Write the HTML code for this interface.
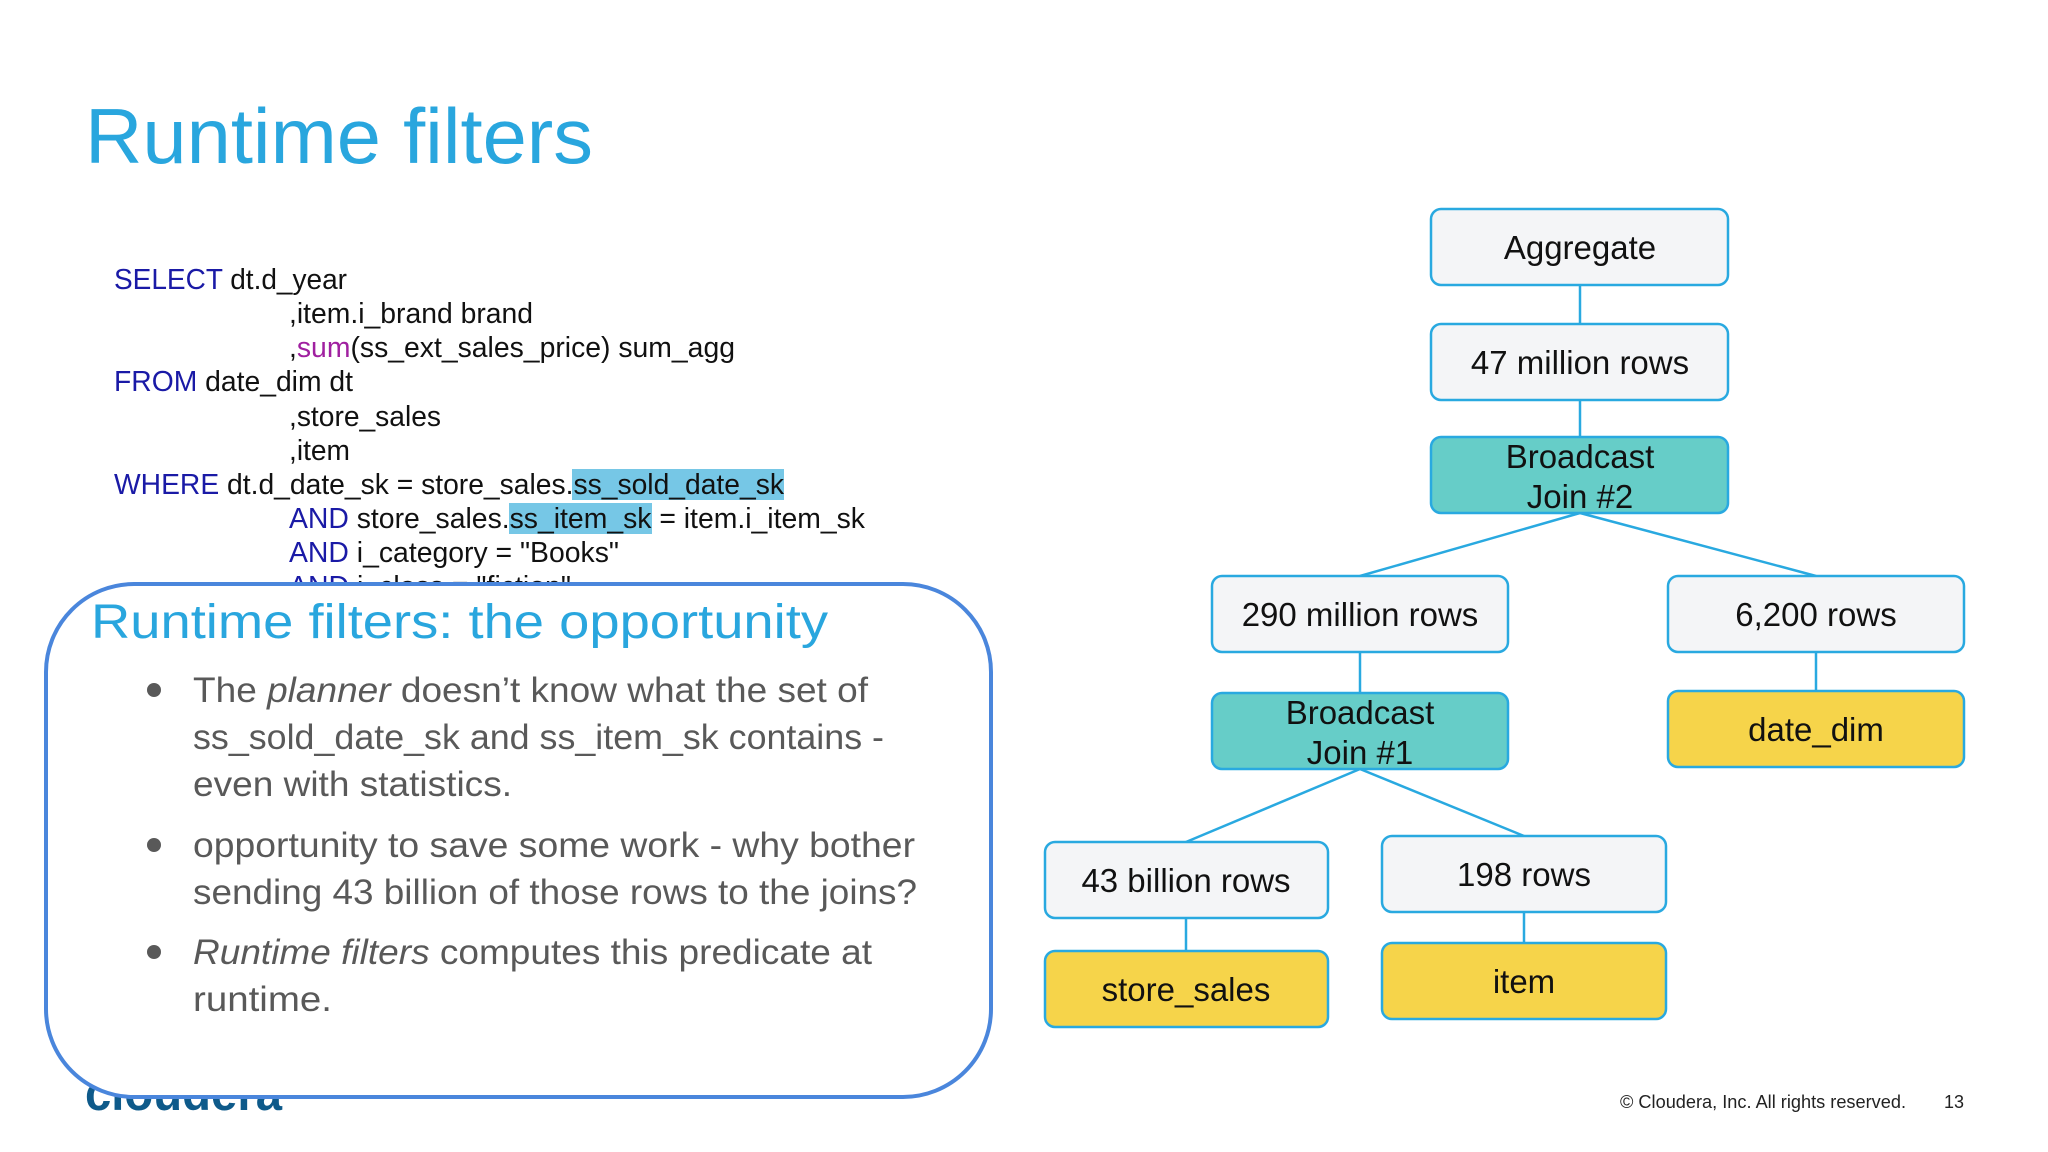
<!DOCTYPE html>
<html><head><meta charset="utf-8"><style>
html,body{margin:0;padding:0;background:#fff;}
svg{display:block;}
</style></head><body>
<svg width="2048" height="1152" viewBox="0 0 2048 1152" xmlns="http://www.w3.org/2000/svg" font-family="Liberation Sans, Arial, sans-serif">
<rect width="2048" height="1152" fill="#fff"/>
<!-- Title -->
<text x="85" y="163" font-size="78" fill="#29a6de" textLength="508" lengthAdjust="spacingAndGlyphs">Runtime filters</text>

<!-- SQL -->
<rect x="572" y="469" width="212" height="31" fill="#76c7e6"/>
<rect x="509" y="503" width="143" height="31" fill="#76c7e6"/>
<g font-size="29" fill="#111">
<text x="114" y="289" textLength="233" lengthAdjust="spacingAndGlyphs"><tspan fill="#1a1aa6">SELECT</tspan> dt.d_year</text>
<text x="289" y="323" textLength="244" lengthAdjust="spacingAndGlyphs">,item.i_brand brand</text>
<text x="289" y="357" textLength="446" lengthAdjust="spacingAndGlyphs">,<tspan fill="#a020a0">sum</tspan>(ss_ext_sales_price) sum_agg</text>
<text x="114" y="391" textLength="239" lengthAdjust="spacingAndGlyphs"><tspan fill="#1a1aa6">FROM</tspan> date_dim dt</text>
<text x="289" y="426" textLength="152" lengthAdjust="spacingAndGlyphs">,store_sales</text>
<text x="289" y="460" textLength="61" lengthAdjust="spacingAndGlyphs">,item</text>
<text x="114" y="494" textLength="670" lengthAdjust="spacingAndGlyphs"><tspan fill="#1a1aa6">WHERE</tspan> dt.d_date_sk = store_sales.ss_sold_date_sk</text>
<text x="289" y="528" textLength="576" lengthAdjust="spacingAndGlyphs"><tspan fill="#1a1aa6">AND</tspan> store_sales.ss_item_sk = item.i_item_sk</text>
<text x="289" y="562" textLength="330" lengthAdjust="spacingAndGlyphs"><tspan fill="#1a1aa6">AND</tspan> i_category = "Books"</text>
<text x="289" y="596" textLength="282" lengthAdjust="spacingAndGlyphs"><tspan fill="#1a1aa6">AND</tspan> i_class = "fiction"</text>
</g>

<!-- logo behind box -->
<text x="85" y="1110" font-size="50" font-weight="bold" fill="#0e5a8a" textLength="197" lengthAdjust="spacingAndGlyphs">cloudera</text>

<!-- Callout -->
<rect x="46" y="584" width="945" height="513" rx="88" ry="88" fill="#fff" stroke="#4a86dc" stroke-width="4"/>
<text x="91" y="638" font-size="48" fill="#29a6de" textLength="737" lengthAdjust="spacingAndGlyphs">Runtime filters: the opportunity</text>
<g fill="#595959" font-size="35">
<circle cx="154" cy="690" r="7"/>
<circle cx="154" cy="845" r="7"/>
<circle cx="154" cy="952" r="7"/>
<text x="193" y="702" textLength="675" lengthAdjust="spacingAndGlyphs">The <tspan font-style="italic">planner</tspan> doesn’t know what the set of</text>
<text x="193" y="749" textLength="691" lengthAdjust="spacingAndGlyphs">ss_sold_date_sk and ss_item_sk contains -</text>
<text x="193" y="796" textLength="319" lengthAdjust="spacingAndGlyphs">even with statistics.</text>
<text x="193" y="857" textLength="722" lengthAdjust="spacingAndGlyphs">opportunity to save some work - why bother</text>
<text x="193" y="904" textLength="724" lengthAdjust="spacingAndGlyphs">sending 43 billion of those rows to the joins?</text>
<text x="193" y="964" textLength="679" lengthAdjust="spacingAndGlyphs"><tspan font-style="italic">Runtime filters</tspan> computes this predicate at</text>
<text x="193" y="1011" textLength="139" lengthAdjust="spacingAndGlyphs">runtime.</text>
</g>

<!-- Connectors -->
<g stroke="#29a9e0" stroke-width="2.5" fill="none">
<line x1="1580" y1="285" x2="1580" y2="324"/>
<line x1="1580" y1="400" x2="1580" y2="437"/>
<line x1="1580" y1="513" x2="1360" y2="576"/>
<line x1="1580" y1="513" x2="1816" y2="576"/>
<line x1="1360" y1="652" x2="1360" y2="693"/>
<line x1="1816" y1="652" x2="1816" y2="691"/>
<line x1="1360" y1="769" x2="1186" y2="842"/>
<line x1="1360" y1="769" x2="1524" y2="836"/>
<line x1="1186" y1="918" x2="1186" y2="951"/>
<line x1="1524" y1="912" x2="1524" y2="943"/>
</g>

<!-- Nodes -->
<g stroke="#29a9e0" stroke-width="2.5">
<rect x="1431" y="209" width="297" height="76" rx="10" fill="#f4f5f7"/>
<rect x="1431" y="324" width="297" height="76" rx="10" fill="#f4f5f7"/>
<rect x="1431" y="437" width="297" height="76" rx="10" fill="#66cdc8"/>
<rect x="1212" y="576" width="296" height="76" rx="10" fill="#f4f5f7"/>
<rect x="1668" y="576" width="296" height="76" rx="10" fill="#f4f5f7"/>
<rect x="1212" y="693" width="296" height="76" rx="10" fill="#66cdc8"/>
<rect x="1668" y="691" width="296" height="76" rx="10" fill="#f6d44a"/>
<rect x="1045" y="842" width="283" height="76" rx="10" fill="#f4f5f7"/>
<rect x="1382" y="836" width="284" height="76" rx="10" fill="#f4f5f7"/>
<rect x="1045" y="951" width="283" height="76" rx="10" fill="#f6d44a"/>
<rect x="1382" y="943" width="284" height="76" rx="10" fill="#f6d44a"/>
</g>
<g font-size="33" fill="#111" text-anchor="middle">
<text x="1580" y="259">Aggregate</text>
<text x="1580" y="374">47 million rows</text>
<text x="1580" y="468">Broadcast</text>
<text x="1580" y="508">Join #2</text>
<text x="1360" y="626">290 million rows</text>
<text x="1816" y="626">6,200 rows</text>
<text x="1360" y="724">Broadcast</text>
<text x="1360" y="764">Join #1</text>
<text x="1816" y="741">date_dim</text>
<text x="1186" y="892">43 billion rows</text>
<text x="1524" y="886">198 rows</text>
<text x="1186" y="1001">store_sales</text>
<text x="1524" y="993">item</text>
</g>

<!-- footer -->
<text x="1620" y="1108" font-size="18" fill="#222" textLength="286" lengthAdjust="spacingAndGlyphs">© Cloudera, Inc. All rights reserved.</text>
<text x="1944" y="1108" font-size="18" fill="#222">13</text>
</svg>
</body></html>
